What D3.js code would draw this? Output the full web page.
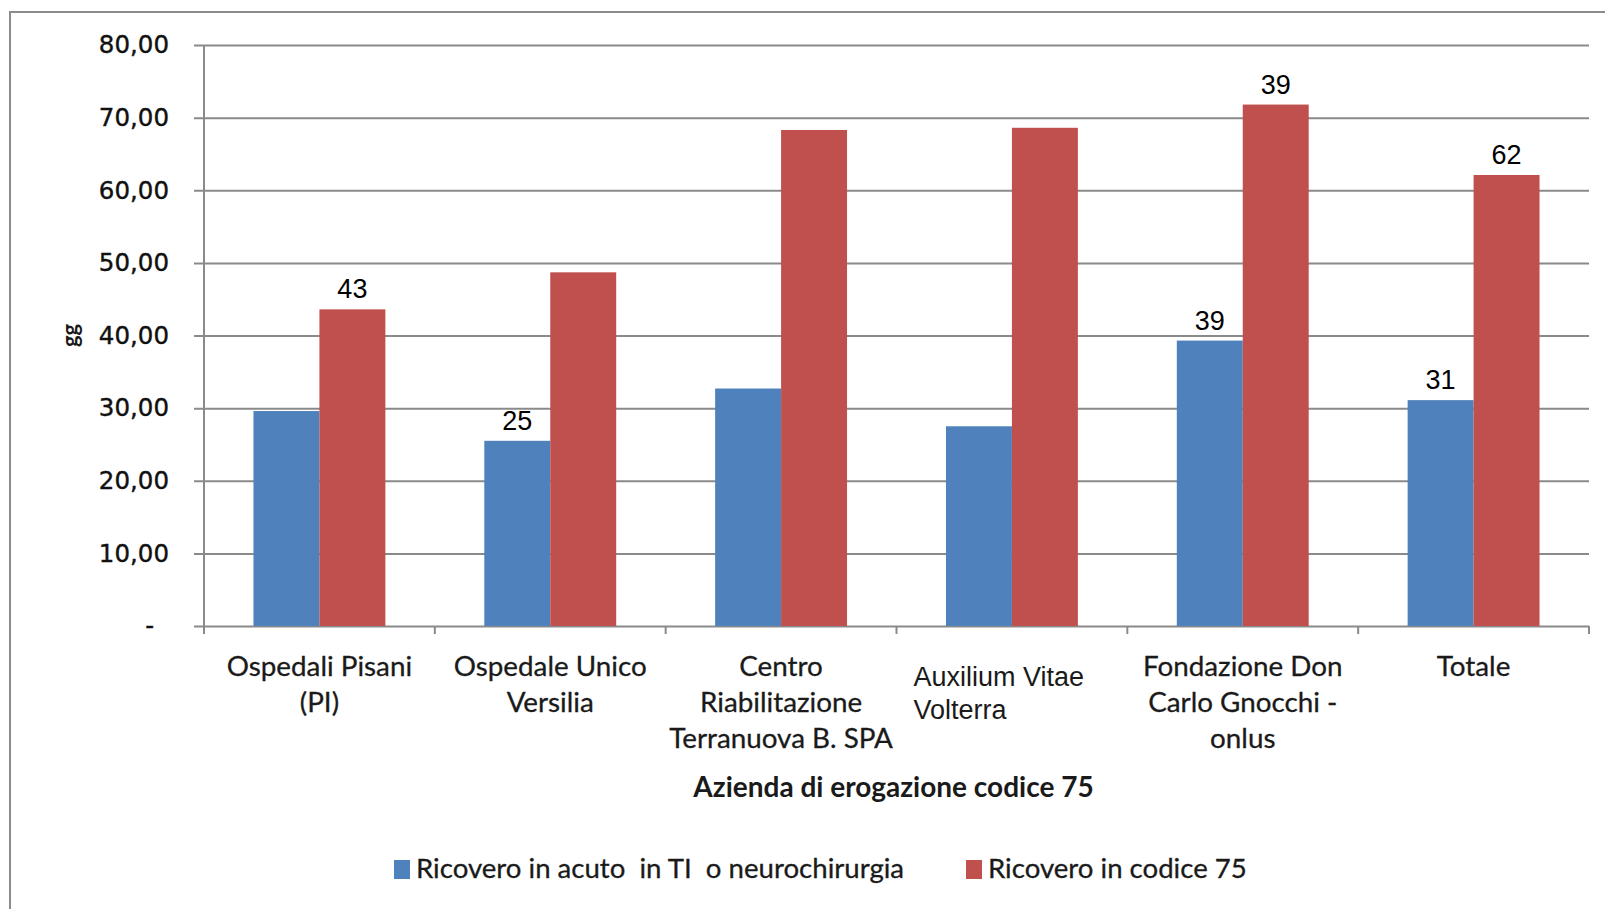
<!DOCTYPE html>
<html>
<head>
<meta charset="utf-8">
<script src="https://cdn.jsdelivr.net/npm/d3@7/dist/d3.min.js"></script>
<style>
  body { margin: 0; background: #fff; }
  svg { display: block; }
</style>
</head>
<body>
<div id="wrapper"></div>
<script>
const categories = [
  "Ospedali Pisani\n(PI)",
  "Ospedale Unico\nVersilia",
  "Centro\nRiabilitazione\nTerranuova B. SPA",
  "Auxilium Vitae\nVolterra",
  "Fondazione Don\nCarlo Gnocchi -\nonlus",
  "Totale",
];
const seriesNames = ["Ricovero in acuto  in TI  o neurochirurgia", "Ricovero in codice 75"];
const acutoValues = [29.6, 25.5, 32.7, 27.5, 39.3, 31.1];
const codice75Values = [43.6, 48.7, 68.3, 68.6, 71.8, 62.1];
const acutoLabels = [null, "25", null, null, "39", "31"];
const codice75Labels = ["43", null, null, null, "39", "62"];
const yTicks = [0, 10, 20, 30, 40, 50, 60, 70, 80];
const yTitle = "gg";
const xTitle = "Azienda di erogazione codice 75";

const colors = ["#4f81bd", "#c0504d"];
const gridColor = "#8a8a8a";
const textColor = "#1a1a1a";

const dimensions = {
  width: 1605,
  height: 909,
  margin: { top: 45, right: 16, bottom: 283, left: 204 },
};
dimensions.boundedWidth =
  dimensions.width - dimensions.margin.left - dimensions.margin.right;
dimensions.boundedHeight =
  dimensions.height - dimensions.margin.top - dimensions.margin.bottom;

const rows = categories.map((c, i) => ({
  category: c,
  values: [
    { series: 0, value: acutoValues[i], label: acutoLabels[i] },
    { series: 1, value: codice75Values[i], label: codice75Labels[i] },
  ],
}));

const svg = d3
  .select("#wrapper")
  .append("svg")
  .attr("width", dimensions.width)
  .attr("height", dimensions.height);

// outer chart frame (right and bottom edges fall outside the picture)
svg
  .append("rect")
  .attr("x", 10)
  .attr("y", 12)
  .attr("width", dimensions.width + 20)
  .attr("height", dimensions.height + 20)
  .attr("fill", "none")
  .attr("stroke", "#8c8c8c")
  .attr("stroke-width", 2);

const bounds = svg
  .append("g")
  .attr("transform", `translate(${dimensions.margin.left},${dimensions.margin.top})`);

const xScale = d3
  .scaleBand()
  .domain(categories)
  .range([0, dimensions.boundedWidth]);

const xInner = d3
  .scaleBand()
  .domain([0, 1])
  .range([0, xScale.bandwidth()])
  .paddingInner(0)
  .paddingOuter(0.75);

const yScale = d3
  .scaleLinear()
  .domain([0, 80])
  .range([dimensions.boundedHeight, 0]);

// y axis with gridlines
const yAxisGenerator = d3
  .axisLeft(yScale)
  .tickValues(yTicks)
  .tickSize(-dimensions.boundedWidth)
  .tickPadding(35)
  .tickFormat((d) => (d === 0 ? "-" : d3.format(".2f")(d).replace(".", ",")));

const yAxis = bounds.append("g").call(yAxisGenerator);
yAxis.select(".domain").remove();
yAxis
  .selectAll(".tick line")
  .attr("x1", -10)
  .attr("stroke", gridColor)
  .attr("stroke-width", 2);
yAxis
  .selectAll(".tick text")
  .attr("fill", "#111")
  .attr("stroke", "#111")
  .attr("stroke-width", 0.4)
  .style("font-family", "DejaVu Sans, sans-serif")
  .style("font-size", "24.5px")
  .attr("dx", (d) => (d === 0 ? -15 : 0));

bounds
  .append("line")
  .attr("x1", 0)
  .attr("x2", 0)
  .attr("y1", 0)
  .attr("y2", dimensions.boundedHeight + 8)
  .attr("stroke", gridColor)
  .attr("stroke-width", 2);

// x axis: ticks at category boundaries
const boundaries = categories.map((c) => xScale(c)).concat([xScale.range()[1]]);
bounds
  .append("g")
  .selectAll("line")
  .data(boundaries)
  .join("line")
  .attr("x1", (d) => d)
  .attr("x2", (d) => d)
  .attr("y1", dimensions.boundedHeight)
  .attr("y2", dimensions.boundedHeight + 8)
  .attr("stroke", gridColor)
  .attr("stroke-width", 2);

// bars
const groups = bounds
  .append("g")
  .selectAll("g")
  .data(rows)
  .join("g")
  .attr("transform", (d) => `translate(${xScale(d.category)},0)`);

groups
  .selectAll("rect")
  .data((d) => d.values)
  .join("rect")
  .attr("x", (d) => xInner(d.series))
  .attr("width", xInner.bandwidth())
  .attr("y", (d) => yScale(d.value))
  .attr("height", (d) => dimensions.boundedHeight - yScale(d.value))
  .attr("fill", (d) => colors[d.series]);

groups
  .selectAll("text")
  .data((d) => d.values.filter((v) => v.label))
  .join("text")
  .attr("x", (d) => xInner(d.series) + xInner.bandwidth() / 2)
  .attr("y", (d) => yScale(d.value) - 11)
  .attr("text-anchor", "middle")
  .attr("fill", "#000")
  .style("font-family", "Liberation Sans, Arial, sans-serif")
  .style("font-size", "27px")
  .text((d) => d.label);

// category labels
bounds
  .append("g")
  .selectAll("text")
  .data(categories)
  .join("text")
  .attr("fill", textColor)
  .each(function (d, i) {
    const pasted = i === 3; // this label was typed in a different font
    const t = d3.select(this);
    const tx = pasted ? xScale(d) + 17 : xScale(d) + xScale.bandwidth() / 2;
    t.attr("x", tx)
      .attr("y", dimensions.boundedHeight + (pasted ? 60 : 50))
      .attr("text-anchor", pasted ? "start" : "middle")
      .style("font-family", pasted ? "Liberation Sans, Arial, sans-serif" : "Lato, sans-serif")
      .style("font-size", pasted ? "27px" : "27.8px")
      .attr("stroke", pasted ? "none" : textColor)
      .attr("stroke-width", 0.3);
    d.split("\n").forEach((line, j) => {
      t.append("tspan")
        .attr("x", tx)
        .attr("dy", j === 0 ? 0 : pasted ? 33 : 36)
        .text(line);
    });
  });

// axis titles
bounds
  .append("text")
  .attr("x", dimensions.boundedWidth / 2 - 3)
  .attr("y", dimensions.boundedHeight + 171)
  .attr("text-anchor", "middle")
  .attr("fill", textColor)
  .style("font-family", "Lato, sans-serif")
  .style("font-weight", "bold")
  .style("font-size", "28px")
  .text(xTitle);

svg
  .append("text")
  .attr("transform", `translate(78, ${yScale(40) + dimensions.margin.top}) rotate(-90)`)
  .attr("text-anchor", "middle")
  .attr("fill", textColor)
  .style("font-family", "Lato, sans-serif")
  .style("font-weight", "bold")
  .style("font-size", "22px")
  .text(yTitle);

// legend
const legendItems = [
  { name: seriesNames[0], x: 394, color: colors[0] },
  { name: seriesNames[1], x: 966, color: colors[1] },
];
const legend = svg
  .append("g")
  .selectAll("g")
  .data(legendItems)
  .join("g")
  .attr("transform", (d) => `translate(${d.x}, 869)`);

legend
  .append("rect")
  .attr("x", 0)
  .attr("y", -9)
  .attr("width", 16)
  .attr("height", 19)
  .attr("fill", (d) => d.color);

legend
  .append("text")
  .attr("x", 22)
  .attr("y", 9)
  .attr("fill", textColor)
  .attr("stroke", textColor)
  .attr("stroke-width", 0.3)
  .style("font-family", "Lato, sans-serif")
  .style("font-size", "27.6px")
  .style("white-space", "pre")
  .text((d) => d.name);
</script>
</body>
</html>
